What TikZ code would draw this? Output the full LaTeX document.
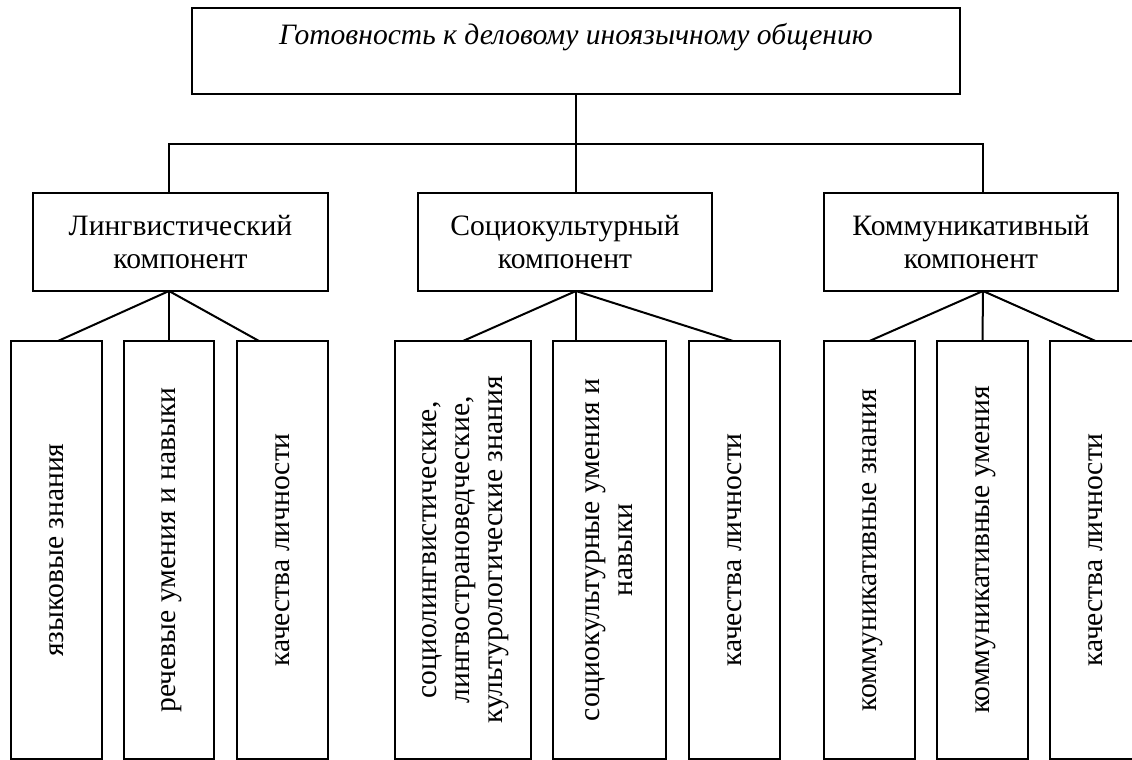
\documentclass[tikz,border=0pt]{standalone}
\usepackage{fontspec}
\setmainfont{Liberation Serif}
\usepackage{graphicx}
\usetikzlibrary{calc}
\tikzset{
  box/.style={draw, line width=1pt, inner sep=0pt, outer sep=0pt, align=center,
    font=\fontsize{14.8}{16.2}\selectfont},
  topbox/.style={box, minimum width=384pt, minimum height=43pt, text height=10pt, text depth=16pt},
  midbox/.style={box, minimum height=49pt},
  leafbox/.style={box, minimum height=209pt, font=\fontsize{14.8}{16.6}\selectfont},
  conn/.style={line width=1pt}
}
\newcommand{\vtext}[1]{\rotatebox{90}{\begin{tabular}{@{}c@{}}#1\end{tabular}}}
\begin{document}
\begin{tikzpicture}[x=0.5pt, y=-0.5pt]
\useasboundingbox (0,0) rectangle (1132,760);
% top
\node[topbox] (top) at (576,51) {\itshape Готовность к деловому иноязычному общению};
% second level
\node[midbox, minimum width=147.5pt] (L) at (180.5,242) {Лингвистический\\компонент};
\node[midbox, minimum width=147pt] (S) at (565,242) {Социокультурный\\компонент};
\node[midbox, minimum width=147pt] (K) at (971,242) {Коммуникативный\\компонент};
% leaves
\node[leafbox, minimum width=45.5pt] (b1) at (56.5,550) {\vtext{языковые знания}};
\node[leafbox, minimum width=45pt] (b2) at (169,550) {\vtext{речевые умения и навыки}};
\node[leafbox, minimum width=45.5pt] (b3) at (282.5,550) {\vtext{качества личности}};
\node[leafbox, minimum width=68pt] (m1) at (463,550) {\vtext{социолингвистические,\\лингвострановедческие,\\культурологические знания}};
\node[leafbox, minimum width=56.5pt] (m2) at (609.5,550) {\vtext{социокультурные умения и\\навыки}};
\node[leafbox, minimum width=45.5pt] (m3) at (734.5,550) {\vtext{качества личности}};
\node[leafbox, minimum width=45.5pt] (r1) at (869.5,550) {\vtext{коммуникативные знания}};
\node[leafbox, minimum width=45.5pt] (r2) at (982.5,550) {\vtext{коммуникативные умения}};
\node[leafbox, minimum width=45.5pt] (r3) at (1095.5,550) {\vtext{качества личности}};
% connectors top level
\coordinate (hb) at ($(top.south)!0.5!(S.north)$);
\draw[conn] ([xshift=-5.75pt]L.north) |- (hb) -| ([xshift=6pt]K.north);
\draw[conn] (top.south) -- ([xshift=5.5pt]S.north);
% connectors L
\draw[conn] ([xshift=-5.75pt]L.south) -- ([xshift=0.75pt]b1.north);
\draw[conn] ([xshift=-5.75pt]L.south) -- (b2.north);
\draw[conn] ([xshift=-5.75pt]L.south) -- ([xshift=-11.75pt]b3.north);
% connectors S
\draw[conn] ([xshift=5.5pt]S.south) -- (m1.north);
\draw[conn] ([xshift=5.5pt]S.south) -- ([xshift=-16.75pt]m2.north);
\draw[conn] ([xshift=5.5pt]S.south) -- ([xshift=-0.75pt]m3.north);
% connectors K
\draw[conn] ([xshift=6pt]K.south) -- (r1.north);
\draw[conn] ([xshift=6pt]K.south) -- (r2.north);
\draw[conn] ([xshift=6pt]K.south) -- (r3.north);
\end{tikzpicture}
\end{document}
